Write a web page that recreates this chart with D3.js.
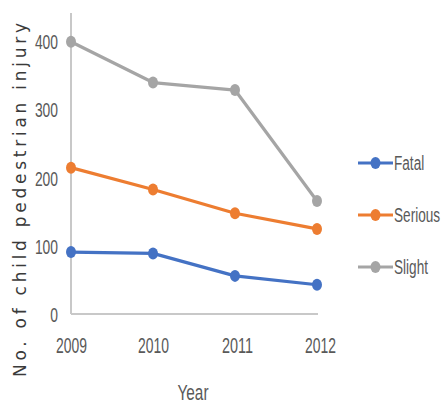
<!DOCTYPE html>
<html>
<head>
<meta charset="utf-8">
<script src="https://cdn.jsdelivr.net/npm/d3@7"></script>
<style>
  html, body { margin: 0; padding: 0; background: #ffffff; }
  svg { display: block; }
  .cond { font-family: "Liberation Sans Narrow", "Liberation Sans", Arial, sans-serif; fill: #595959; }
</style>
</head>
<body>
<svg id="chart" width="444" height="406"></svg>
<script>
// Child pedestrian injuries by severity, 2009–2012
const years = ["2009", "2010", "2011", "2012"];
const fatal = [91, 89, 56, 43];
const serious = [215, 183, 148, 125];
const slight = [400, 340, 329, 166];
const seriesNames = ["Fatal", "Serious", "Slight"];
const seriesColors = ["#4472C4", "#ED7D31", "#A5A5A5"];
const yTicks = [0, 100, 200, 300, 400];

const series = [fatal, serious, slight].map((vals, i) => ({
  name: seriesNames[i],
  color: seriesColors[i],
  values: vals.map((v, j) => ({ year: years[j], value: v }))
}));

const svg = d3.select("#chart");

const x = d3.scalePoint().domain(years).range([71, 317]);
const y = d3.scaleLinear().domain([0, 400]).range([314, 41.7]);

// Axis lines
svg.append("line")
  .attr("x1", 71).attr("x2", 71)
  .attr("y1", y(0)).attr("y2", 13)
  .attr("stroke", "#c8c8c8").attr("stroke-width", 2);
svg.append("line")
  .attr("x1", 71).attr("x2", 318)
  .attr("y1", y(0)).attr("y2", y(0))
  .attr("stroke", "#c8c8c8").attr("stroke-width", 2);

// Y axis tick labels
const yAxis = svg.append("g")
  .attr("transform", "translate(71,0)")
  .call(d3.axisLeft(y).tickValues(yTicks).tickSize(0).tickPadding(13));
yAxis.select(".domain").remove();
yAxis.selectAll("text")
  .attr("class", "cond")
  .attr("font-size", 20)
  .attr("dy", "0.36em")
  .attr("textLength", d => String(d).length * 7.7)
  .attr("lengthAdjust", "spacingAndGlyphs");

// X axis tick labels
const xAxis = svg.append("g")
  .attr("transform", `translate(0,${y(0)})`)
  .call(d3.axisBottom(x).tickSize(0).tickPadding(31));
xAxis.select(".domain").remove();
xAxis.selectAll("text")
  .attr("class", "cond")
  .attr("font-size", 22)
  .attr("dy", "0.36em")
  .attr("textLength", 31)
  .attr("lengthAdjust", "spacingAndGlyphs");
xAxis.selectAll(".tick").filter(d => d === "2011").select("text").attr("dx", 2);
xAxis.selectAll(".tick").filter(d => d === "2012").select("text").attr("dx", 3);

// Axis titles
svg.append("text")
  .attr("class", "cond")
  .attr("x", 193).attr("y", 400)
  .attr("text-anchor", "middle")
  .attr("font-size", 22)
  .attr("textLength", 31)
  .attr("lengthAdjust", "spacingAndGlyphs")
  .text("Year");

svg.append("text")
  .attr("transform", "translate(26,200) rotate(-90)")
  .attr("text-anchor", "middle")
  .attr("font-family", "DejaVu Sans, Verdana, sans-serif")
  .attr("font-size", 17)
  .attr("fill", "#3a3a3a")
  .attr("textLength", 354)
  .attr("lengthAdjust", "spacing")
  .text("No. of child pedestrian injury");

// Lines and markers
const line = d3.line().x(d => x(d.year)).y(d => y(d.value));

const g = svg.selectAll(".series").data(series).join("g").attr("class", "series");
g.append("path")
  .attr("d", d => line(d.values))
  .attr("fill", "none")
  .attr("stroke", d => d.color)
  .attr("stroke-width", 3.2)
  .attr("stroke-linejoin", "round");
g.selectAll("ellipse").data(d => d.values.map(v => ({ ...v, color: d.color })))
  .join("ellipse")
  .attr("cx", d => x(d.year))
  .attr("cy", d => y(d.value))
  .attr("rx", 5).attr("ry", 6)
  .attr("fill", d => d.color);

// Legend
const legendY = d3.scalePoint().domain(seriesNames).range([163, 267]);
const lg = svg.selectAll(".legend").data(series).join("g")
  .attr("class", "legend")
  .attr("transform", d => `translate(0,${legendY(d.name)})`);
lg.append("line")
  .attr("x1", 358).attr("x2", 393)
  .attr("stroke", d => d.color).attr("stroke-width", 3.2);
lg.append("ellipse")
  .attr("cx", 375.5).attr("cy", 0)
  .attr("rx", 5).attr("ry", 6)
  .attr("fill", d => d.color);
// legend labels are horizontally condensed with a scale transform
lg.append("text")
  .attr("class", "cond")
  .attr("transform", "translate(394,0) scale(0.68,1)")
  .attr("dy", "0.36em")
  .attr("font-size", 20)
  .text(d => d.name);
</script>
</body>
</html>
